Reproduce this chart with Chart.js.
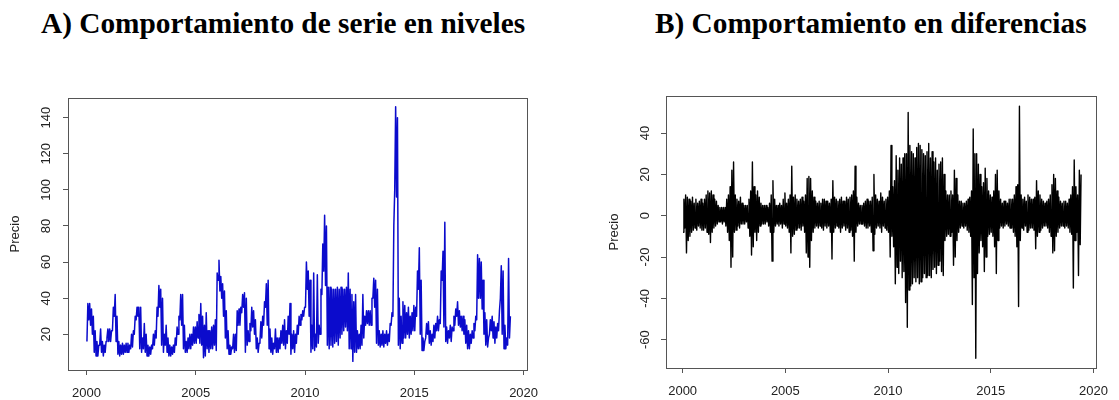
<!DOCTYPE html>
<html lang="es">
<head>
<meta charset="UTF-8">
<title>Precio: niveles y diferencias</title>
<script src="https://cdn.jsdelivr.net/npm/chart.js@4"></script>
<style>
  * { box-sizing: border-box; margin: 0; padding: 0; }
  body { width: 1119px; height: 400px; background: #fff; position: relative; overflow: hidden; }
  .titulo {
    position: absolute; top: 9px;
    font-family: 'Times New Roman', 'Liberation Serif', serif;
    font-weight: bold; font-size: 29.3px; line-height: 1;
    color: #000; white-space: nowrap;
  }
  .panel { position: absolute; top: 60px; height: 340px; }
</style>
</head>
<body>
<div class="titulo" style="left:41px">A) Comportamiento de serie en niveles</div>
<div class="titulo" style="left:655px">B) Comportamiento en diferencias</div>
<div class="panel" style="left:0;width:560px"><canvas id="niveles" width="560" height="340"></canvas></div>
<div class="panel" style="left:560px;width:559px"><canvas id="diferencias" width="559" height="340"></canvas></div>

<script>
// monthly range (min / max) of the daily price, Jan 2000 - May 2019
const startYear = 2000;
const yearTicks = [2000, 2005, 2010, 2015, 2020];
const nivelesTicks = [20, 40, 60, 80, 100, 120, 140];
const difTicks = [-60, -40, -20, 0, 20, 40];

const nivelesMin = [
  16, 28, 25, 20, 10, 8, 8, 14, 10, 8, 10, 18,
  16, 16, 22, 30, 16, 9, 8, 9, 9, 10, 10, 10,
  12, 13, 20, 28, 30, 12, 10, 12, 10, 8, 8, 9,
  12, 14, 18, 30, 35, 14, 10, 14, 10, 8, 8, 9,
  10, 14, 20, 28, 25, 12, 10, 10, 12, 12, 14, 15,
  15, 18, 15, 14, 7, 8, 12, 10, 12, 12, 14, 11,
  50, 44, 40, 30, 18, 12, 9, 9, 12, 10, 11, 25,
  25, 32, 35, 10, 14, 16, 22, 24, 20, 12, 10, 16,
  18, 25, 35, 25, 12, 10, 9, 12, 10, 10, 12, 15,
  14, 12, 15, 20, 9, 12, 10, 15, 20, 25, 28, 30,
  35, 45, 30, 10, 12, 11, 13, 15, 20, 42, 55, 47,
  14, 12, 14, 13, 15, 16, 14, 18, 20, 22, 24, 22,
  12, 12, 5, 10, 10, 12, 12, 14, 18, 25, 26, 25,
  25, 40, 35, 15, 14, 13, 14, 13, 15, 14, 16, 25,
  30, 100, 96, 14, 12, 15, 18, 18, 20, 18, 20, 22,
  22, 30, 45, 20, 11, 11, 18, 20, 15, 14, 16, 18,
  22, 22, 26, 50, 24, 16, 15, 18, 16, 22, 25, 30,
  25, 24, 22, 20, 15, 12, 12, 15, 18, 22, 28, 40,
  40, 34, 20, 14, 13, 20, 22, 18, 15, 18, 22, 40,
  20, 12, 12, 14, 18
];
const nivelesMax = [
  37, 37, 34, 30, 22, 16, 14, 23, 16, 14, 16, 23,
  23, 22, 35, 42, 30, 16, 14, 15, 14, 15, 15, 14,
  20, 22, 30, 35, 35, 35, 18, 26, 20, 14, 13, 14,
  20, 22, 35, 47, 45, 40, 20, 25, 18, 14, 13, 14,
  18, 24, 30, 42, 42, 25, 16, 18, 20, 20, 24, 24,
  27, 31, 37, 30, 25, 32, 22, 22, 24, 25, 28, 54,
  61, 52, 48, 44, 33, 22, 14, 13, 20, 20, 33, 34,
  35, 42, 43, 40, 22, 26, 35, 33, 28, 18, 15, 27,
  30, 38, 48, 50, 23, 18, 15, 23, 18, 18, 22, 25,
  28, 22, 30, 37, 20, 22, 20, 25, 30, 31, 33, 35,
  60, 55, 50, 25, 54, 20, 53, 25, 45, 70, 86, 80,
  46, 46, 45, 45, 45, 46, 45, 46, 45, 45, 46, 54,
  45, 42, 38, 42, 22, 20, 25, 42, 30, 33, 33, 33,
  40, 51, 50, 45, 22, 20, 22, 20, 22, 20, 26, 32,
  80, 146, 140, 40, 30, 38, 36, 32, 35, 30, 32, 36,
  35, 55, 68, 50, 18, 16, 26, 27, 22, 20, 25, 26,
  30, 28, 55, 66, 82, 24, 22, 25, 24, 30, 34, 38,
  33, 30, 30, 28, 25, 22, 20, 22, 26, 30, 64, 62,
  60, 50, 32, 28, 18, 28, 30, 27, 24, 26, 33, 58,
  55, 25, 18, 62, 30
];

// first differences, same months
const difMin = [
  -8, -6, -18, -12, -10, -8, -7, -6, -7, -5, -6, -7,
  -7, -6, -8, -9, -13, -8, -6, -5, -4, -3, -3, -4,
  -3, -5, -8, -12, -25, -20, -8, -7, -5, -6, -4, -4,
  -4, -3, -6, -10, -19, -15, -8, -12, -8, -5, -4, -4,
  -4, -3, -5, -8, -22, -8, -5, -4, -5, -4, -6, -4,
  -5, -6, -8, -18, -10, -9, -7, -6, -6, -7, -5, -8,
  -18, -20, -25, -12, -8, -6, -5, -6, -5, -6, -7, -5,
  -6, -5, -8, -21, -8, -6, -5, -6, -8, -6, -5, -7,
  -6, -8, -7, -10, -22, -8, -5, -4, -4, -4, -5, -6,
  -6, -5, -8, -17, -9, -6, -5, -6, -8, -5, -6, -7,
  -8, -20, -10, -15, -33, -25, -28, -22, -30, -27, -42, -54,
  -36, -34, -33, -30, -32, -30, -33, -32, -30, -28, -30, -29,
  -29, -30, -26, -25, -28, -24, -22, -27, -29, -12, -10, -9,
  -10, -8, -24, -20, -12, -8, -6, -5, -6, -5, -7, -8,
  -10, -43, -30, -69, -28, -18, -12, -15, -27, -20, -10, -9,
  -8, -10, -15, -28, -12, -6, -5, -6, -5, -4, -5, -6,
  -6, -8, -10, -15, -44, -12, -6, -7, -5, -8, -7, -6,
  -6, -7, -16, -10, -8, -7, -6, -5, -5, -6, -8, -10,
  -18, -17, -10, -8, -6, -5, -5, -6, -5, -6, -8, -9,
  -35, -12, -8, -29, -14
];
const difMax = [
  8, 10, 9, 8, 7, 9, 6, 8, 6, 7, 8, 6,
  8, 10, 12, 11, 12, 10, 8, 7, 5, 4, 4, 4,
  4, 8, 10, 14, 22, 26, 10, 8, 7, 9, 6, 5,
  5, 5, 8, 12, 26, 14, 10, 12, 9, 6, 5, 5,
  5, 4, 6, 10, 17, 8, 5, 5, 6, 5, 8, 11,
  6, 8, 10, 24, 9, 10, 8, 7, 8, 9, 7, 10,
  18, 19, 18, 12, 9, 7, 6, 7, 6, 8, 8, 7,
  7, 6, 8, 17, 9, 8, 7, 8, 9, 7, 7, 9,
  8, 9, 10, 12, 24, 9, 6, 5, 5, 6, 7, 8,
  7, 7, 9, 20, 10, 8, 7, 11, 9, 7, 8, 9,
  12, 34, 14, 17, 29, 22, 28, 25, 28, 30, 30, 50,
  34, 31, 30, 28, 33, 35, 34, 32, 30, 29, 31, 35,
  28, 31, 26, 28, 22, 25, 26, 28, 20, 12, 10, 10,
  12, 10, 22, 18, 10, 7, 7, 6, 6, 7, 8, 9,
  12, 42, 30, 30, 25, 20, 14, 16, 23, 18, 12, 10,
  9, 12, 20, 22, 12, 8, 6, 7, 7, 6, 8, 8,
  8, 10, 14, 15, 53, 10, 8, 9, 7, 10, 9, 8,
  8, 9, 17, 12, 10, 8, 7, 6, 7, 8, 10, 15,
  20, 18, 12, 9, 7, 6, 7, 7, 6, 8, 10, 14,
  27, 14, 10, 22, 20
];

// each month becomes two points (low then high) so the line sweeps its range
function zigzag(lo, hi) {
  const pts = [];
  lo.forEach((v, i) => {
    const t = startYear + i / 12;
    pts.push({ x: t + 1 / 48, y: v });
    pts.push({ x: t + 3 / 48, y: hi[i] });
  });
  return pts;
}

const tickFont = { family: "Arial, 'Liberation Sans', sans-serif", size: 13 };
const axisGrey = '#555';
const labelGrey = '#222';

// R-style box around the plot region
const caja = {
  id: 'caja',
  afterDraw(chart) {
    const { ctx, chartArea: a } = chart;
    ctx.save();
    ctx.strokeStyle = axisGrey;
    ctx.lineWidth = 1;
    ctx.strokeRect(Math.round(a.left) + 0.5, Math.round(a.top) + 0.5,
      Math.round(a.right - a.left), Math.round(a.bottom - a.top));
    ctx.restore();
  }
};

function panel(id, lo, hi, color, lineWidth, o) {
  return new Chart(document.getElementById(id), {
    type: 'line',
    data: {
      datasets: [{
        data: zigzag(lo, hi),
        borderColor: color,
        borderWidth: lineWidth,
        borderJoinStyle: 'round',
        pointRadius: 0,
        tension: 0,
        fill: false
      }]
    },
    options: {
      responsive: false,
      animation: false,
      events: [],
      layout: { padding: o.padding },
      plugins: { legend: { display: false }, tooltip: { enabled: false } },
      scales: {
        x: {
          type: 'linear',
          min: o.xMin, max: o.xMax,
          afterBuildTicks: s => { s.ticks = yearTicks.map(v => ({ value: v })); },
          afterFit: s => { s.height = o.xHeight; },
          grid: { drawOnChartArea: false, tickLength: 5, color: axisGrey },
          border: { display: false },
          ticks: {
            font: tickFont, color: labelGrey, padding: 11,
            maxRotation: 0, autoSkip: false, callback: v => String(v)
          }
        },
        y: {
          type: 'linear',
          min: o.yMin, max: o.yMax,
          afterBuildTicks: s => { s.ticks = o.yTicks.map(v => ({ value: v })); },
          afterFit: s => { s.width = o.yWidth; },
          grid: { drawOnChartArea: false, tickLength: 5, color: axisGrey },
          border: { display: false },
          ticks: {
            font: tickFont, color: labelGrey, padding: 6,
            minRotation: 90, maxRotation: 90, crossAlign: 'center',
            autoSkip: false, callback: v => String(v)
          },
          title: {
            display: true, text: 'Precio', font: tickFont, color: labelGrey,
            padding: { top: 8, bottom: 0 }
          }
        }
      }
    },
    plugins: [caja]
  });
}

panel('niveles', nivelesMin, nivelesMax, '#0b0bcc', 1.5, {
  padding: { top: 38, right: 33, left: 0, bottom: 0 },
  xHeight: 30, yWidth: 68,
  xMin: 1999.154, xMax: 2020.156,
  yMin: 0.22, yMax: 150.9, yTicks: nivelesTicks
});

panel('diferencias', difMin, difMax, '#000', 1.4, {
  padding: { top: 36, right: 13, left: 39, bottom: 0 },
  xHeight: 32, yWidth: 67,
  xMin: 1999.19, xMax: 2020.11,
  yMin: -73.75, yMax: 57.97, yTicks: difTicks
});
</script>
</body>
</html>
